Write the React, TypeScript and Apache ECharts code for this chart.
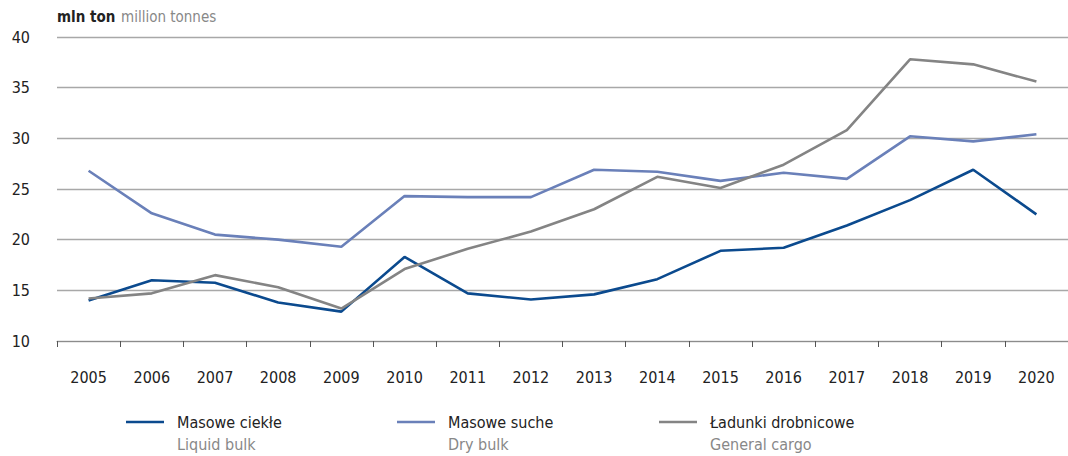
import React, { useEffect, useRef } from "react";
import * as echarts from "echarts";

const years = ["2005","2006","2007","2008","2009","2010","2011","2012","2013","2014","2015","2016","2017","2018","2019","2020"];
const liquidBulk = [14.0, 16.0, 15.75, 13.8, 12.9, 18.3, 14.7, 14.1, 14.6, 16.1, 18.9, 19.2, 21.4, 23.9, 26.9, 22.5];
const dryBulk = [26.8, 22.6, 20.5, 20.0, 19.3, 24.3, 24.2, 24.2, 26.9, 26.7, 25.8, 26.6, 26.0, 30.2, 29.7, 30.4];
const generalCargo = [14.2, 14.7, 16.5, 15.3, 13.2, 17.1, 19.1, 20.8, 23.0, 26.2, 25.1, 27.4, 30.8, 37.8, 37.3, 35.6];
const seriesNamesPl = ["Masowe ciekłe", "Masowe suche", "Ładunki drobnicowe"];
const seriesNamesEn = ["Liquid bulk", "Dry bulk", "General cargo"];
const colors = ["#0b4a8e", "#6a80b9", "#848484"];
const unitPl = "mln ton";
const unitEn = "million tonnes";

const FONT = "'Liberation Sans Narrow', 'DejaVu Sans Condensed', 'Roboto Condensed', sans-serif";

export default function App() {
  const ref = useRef<HTMLDivElement>(null);
  useEffect(() => {
    document.body.style.margin = "0";
    const chart = echarts.init(ref.current!, null, { renderer: "svg" });
    const data = [liquidBulk, dryBulk, generalCargo];
    const legendX = [126, 397, 659];
    const graphics: any[] = [
      { type: "text", left: 57, top: 9, style: { text: unitPl, font: `bold 15px ${FONT}`, fill: "#222" } },
      { type: "text", left: 121, top: 9, style: { text: unitEn, font: `15px ${FONT}`, fill: "#888" } },
    ];
    legendX.forEach((x, i) => {
      graphics.push({ type: "line", shape: { x1: x, y1: 422, x2: x + 38, y2: 422 }, style: { stroke: colors[i], lineWidth: 2.5 } });
      graphics.push({ type: "text", x: x + 51, y: 422, style: { text: seriesNamesPl[i], font: `16px ${FONT}`, fill: "#222", verticalAlign: "middle" } });
      graphics.push({ type: "text", x: x + 51, y: 444, style: { text: seriesNamesEn[i], font: `16px ${FONT}`, fill: "#888", verticalAlign: "middle" } });
    });
    chart.setOption({
      animation: false,
      textStyle: { fontFamily: FONT },
      grid: { left: 57, top: 37, width: 1022, height: 304, containLabel: false },
      xAxis: {
        type: "category",
        data: years,
        boundaryGap: true,
        axisLine: { lineStyle: { color: "#8c8c8c", width: 1 } },
        axisTick: { show: true, length: 6, lineStyle: { color: "#555" } },
        axisLabel: { color: "#222", fontSize: 16, margin: 28, fontFamily: FONT },
      },
      yAxis: {
        type: "value",
        min: 10,
        max: 40,
        interval: 5,
        axisLine: { show: false },
        axisTick: { show: false },
        splitLine: { lineStyle: { color: "#a8a8a8", width: 1.3 } },
        axisLabel: { color: "#222", fontSize: 16, margin: 27, fontFamily: FONT },
      },
      series: data.map((d, i) => ({
        type: "line",
        name: seriesNamesPl[i],
        data: d,
        symbol: "none",
        lineStyle: { color: colors[i], width: 2.6 },
        itemStyle: { color: colors[i] },
      })),
      graphic: graphics,
    });
    return () => chart.dispose();
  }, []);
  return <div ref={ref} style={{ width: 1068, height: 456 }} />;
}
